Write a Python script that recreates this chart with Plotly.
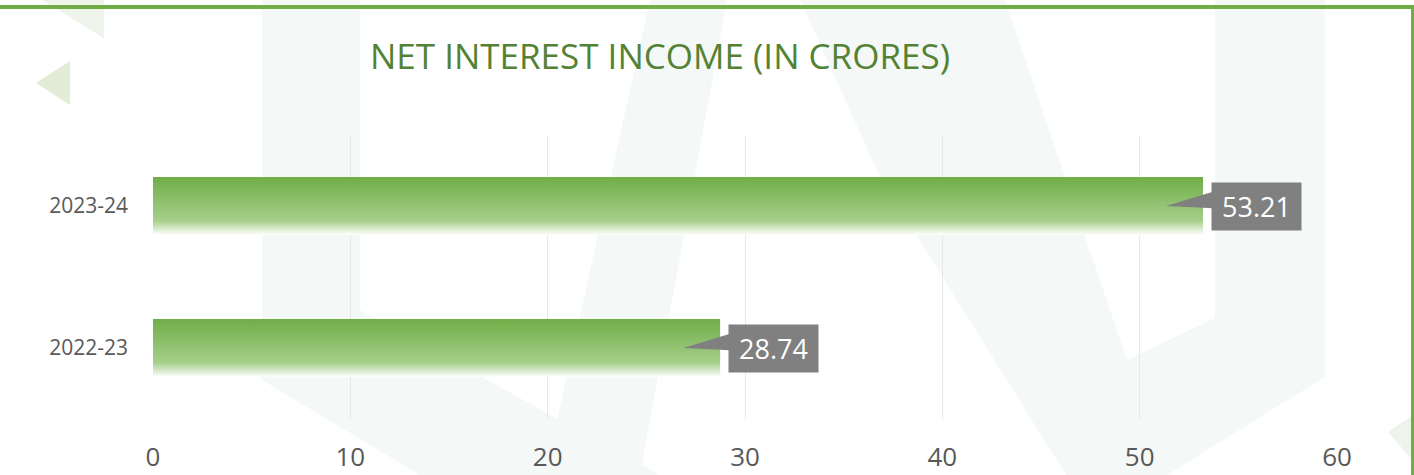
import plotly.graph_objects as go

# ---- data ----
categories = ["2022-23", "2023-24"]
values = [28.74, 53.21]
value_labels = ["28.74", "53.21"]
x_ticks = [0, 10, 20, 30, 40, 50, 60]
title_text = "NET INTEREST INCOME (IN CRORES)"

# ---- geometry helpers (figure pixel -> paper coords for decoration only) ----
W, H = 1414, 475
ML, MR, MT, MB = 153, 77, 135, 56
PW, PH = W - ML - MR, H - MT - MB


def px(x):
    return (x - ML) / PW


def py(y):
    return (H - MB - y) / PH


def poly(points):
    d = "M " + " L ".join(f"{px(a):.5f},{py(b):.5f}" for a, b in points) + " Z"
    return d


GREEN = "#70ad47"
fig = go.Figure()

half = 0.205  # bar half-thickness in category units
for i, (cat, v) in enumerate(zip(categories, values)):
    fig.add_trace(go.Scatter(
        x=[0, v, v, 0, 0],
        y=[i - half, i - half, i + half, i + half, i - half],
        mode="lines", line=dict(width=0), fill="toself",
        fillgradient=dict(type="vertical",
                          colorscale=[[0, "rgba(255,255,255,1)"], [0.25, "#a5cf8a"], [1, GREEN]]),
        hoverinfo="skip", showlegend=False, name=cat,
    ))

# callout wedges
unit_px = PW / (x_ticks[-1] - x_ticks[0])
for i, v in enumerate(values):
    tip = v - 37 / unit_px
    base = v + 10 / unit_px
    fig.add_trace(go.Scatter(
        x=[tip, base, base, tip],
        y=[i, i + 0.1, i - 0.015, i],
        mode="lines", line=dict(width=0), fill="toself", fillcolor="#808080",
        hoverinfo="skip", showlegend=False,
    ))
    fig.add_annotation(
        x=v, y=i, xref="x", yref="y", text=value_labels[i], showarrow=False,
        xanchor="left", yanchor="middle", xshift=8, yshift=0,
        bgcolor="#808080", borderpad=6, width=77, height=35,
        font=dict(family="Open Sans", size=27, color="white"),
    )

shapes = []
WM = "#f4f8f6"
wm_polys = [
    [(262, 0), (360, 0), (360, 310), (660, 475), (420, 475), (262, 380)],
    [(650, 0), (727, 0), (640, 475), (545, 475)],
    [(800, 0), (1005, 0), (1127, 360), (1215, 318), (1215, 0), (1325, 0),
     (1325, 377), (1167, 475), (1066, 475), (880, 177)],
]
for p in wm_polys:
    shapes.append(dict(type="path", path=poly(p), xref="paper", yref="paper",
                       fillcolor=WM, line=dict(width=0), layer="below"))
# decorative triangles
shapes.append(dict(type="path", path=poly([(36, 83), (70, 61), (70, 105)]), xref="paper", yref="paper",
                   fillcolor="#e2ecd6", line=dict(width=0), layer="below"))
shapes.append(dict(type="path", path=poly([(42, 0), (104, 0), (104, 38)]), xref="paper", yref="paper",
                   fillcolor="#eff4ea", line=dict(width=0), layer="below"))
shapes.append(dict(type="path", path=poly([(1388, 432), (1414, 414), (1414, 462)]), xref="paper", yref="paper",
                   fillcolor="#eff4ea", line=dict(width=0), layer="below"))
# frame lines
shapes.append(dict(type="line", xref="paper", yref="paper", x0=px(0), x1=px(W), y0=py(7), y1=py(7),
                   line=dict(color=GREEN, width=4), layer="above"))
shapes.append(dict(type="line", xref="paper", yref="paper", x0=px(1412.5), x1=px(1412.5), y0=py(7), y1=py(H),
                   line=dict(color=GREEN, width=3), layer="above"))

fig.update_layout(
    width=W, height=H,
    margin=dict(l=ML, r=MR, t=MT, b=MB, pad=0, autoexpand=False),
    paper_bgcolor="white", plot_bgcolor="rgba(0,0,0,0)",
    shapes=shapes,
    title=dict(text=title_text, x=660 / W, y=1 - 57 / H, xref="container", yref="container",
               xanchor="center", yanchor="middle", automargin=False,
               font=dict(family="Open Sans", size=35, color="#548235")),
    xaxis=dict(range=[x_ticks[0], x_ticks[-1]], tickvals=x_ticks, showgrid=True,
               gridcolor="#e8e8e8", gridwidth=1, zeroline=False, showline=False,
               ticks="", ticklabelstandoff=20, automargin=False,
               tickfont=dict(family="Open Sans", size=26, color="#595959"), fixedrange=True),
    yaxis=dict(range=[-0.5, 1.5], tickvals=list(range(len(categories))), ticktext=categories,
               showgrid=False, zeroline=False, showline=False, ticks="", ticklabelstandoff=24,
               automargin=False,
               tickfont=dict(family="Open Sans", size=21, color="#595959"), fixedrange=True),
    showlegend=False,
)

fig.write_html("out.html", config={"displayModeBar": False},
               post_script="document.body.style.margin='0';document.body.style.overflow='hidden';")
